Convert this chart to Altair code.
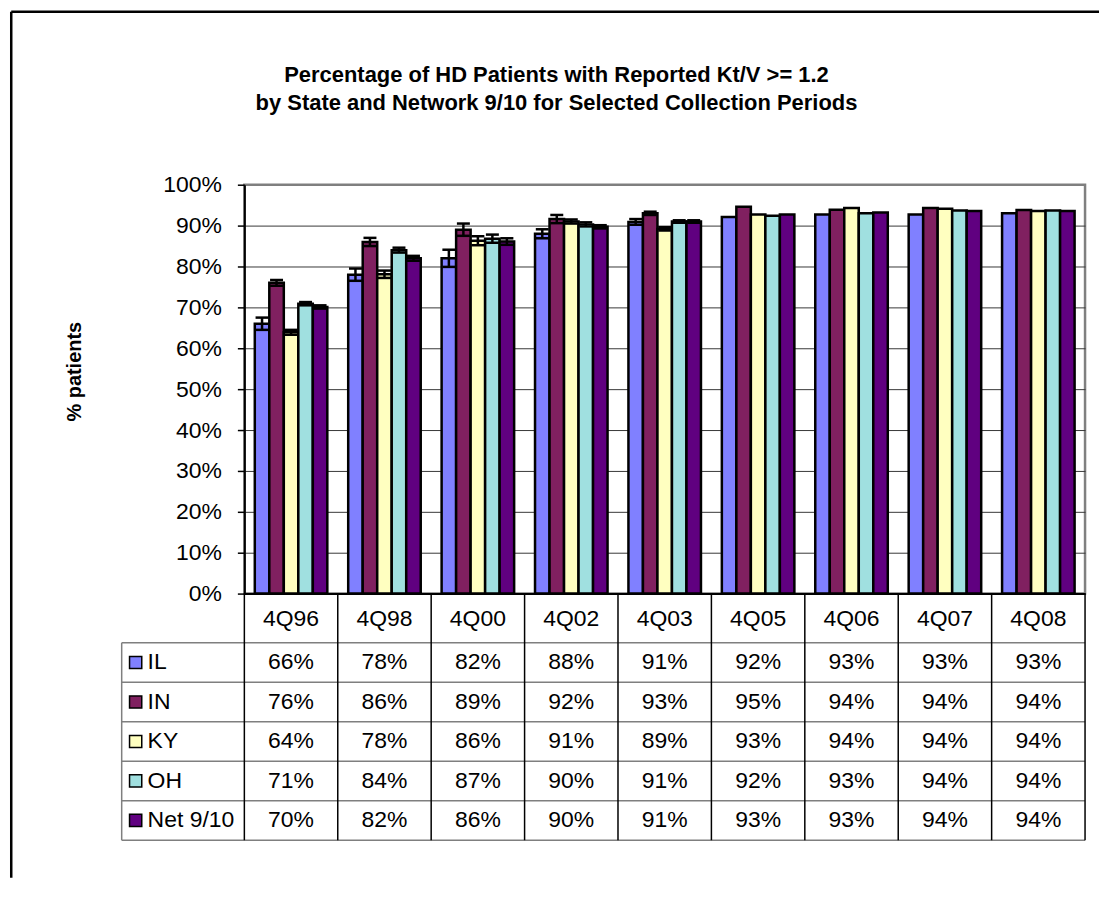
import altair as alt
import pandas as pd

# ---------------- data ----------------
periods = ["4Q96", "4Q98", "4Q00", "4Q02", "4Q03", "4Q05", "4Q06", "4Q07", "4Q08"]
series = ["IL", "IN", "KY", "OH", "Net 9/10"]
colors = ["#8080FF", "#802060", "#FFFFC0", "#A0E0E0", "#600080"]

il = [0.660, 0.780, 0.820, 0.880, 0.909, 0.921, 0.927, 0.927, 0.930]
in_ = [0.760, 0.860, 0.890, 0.916, 0.930, 0.946, 0.939, 0.943, 0.938]
ky = [0.639, 0.781, 0.863, 0.910, 0.892, 0.927, 0.943, 0.941, 0.936]
oh = [0.709, 0.840, 0.868, 0.903, 0.910, 0.924, 0.930, 0.937, 0.937]
net = [0.701, 0.820, 0.861, 0.897, 0.910, 0.927, 0.932, 0.936, 0.936]

il_err = [0.015, 0.015, 0.021, 0.011, 0.007, 0, 0, 0, 0]
in_err = [0.007, 0.010, 0.015, 0.010, 0.004, 0, 0, 0, 0]
ky_err = [0.006, 0.009, 0.011, 0.005, 0.004, 0, 0, 0, 0]
oh_err = [0.004, 0.006, 0.010, 0.005, 0.003, 0, 0, 0, 0]
net_err = [0.004, 0.006, 0.008, 0.004, 0.003, 0, 0, 0, 0]

title_lines = ["Percentage of HD Patients with Reported Kt/V >= 1.2",
               "by State and Network 9/10 for Selected Collection Periods"]

values = [il, in_, ky, oh, net]
errors = [il_err, in_err, ky_err, oh_err, net_err]
rows = []
for s, vals, errs in zip(series, values, errors):
    for p, v, e in zip(periods, vals, errs):
        rows.append({"period": p, "series": s, "value": v,
                     "lo": v - e, "hi": v + e, "err": e})
df = pd.DataFrame(rows)
df_err = df[df["err"] > 0]
one = pd.DataFrame({"k": [0]})
ser_df = pd.DataFrame({"series": series})
per_df = pd.DataFrame({"period": periods})

# ---------------- layout constants ----------------
FONT = "Liberation Sans"
FS = 23
W, H = 843, 410
HEADER = 49.3
TAB_H = 198
LAB = 123

color = alt.Color("series:N", scale=alt.Scale(domain=series, range=colors), legend=None)
xband = alt.Scale(paddingInner=0, paddingOuter=0)
xoff = alt.XOffset("series:N", sort=series, scale=alt.Scale(paddingInner=0, paddingOuter=0.72))

yaxis = alt.Axis(
    values=[i / 10 for i in range(11)], format=".0%",
    labelFontSize=FS, labelFont=FONT, labelColor="black", labelPadding=16,
    tickSize=7, tickColor="black", tickWidth=1.5,
    domainColor="black", domainWidth=2,
    gridColor={"condition": {"test": "datum.value >= 1", "value": "#808080"}, "value": "#383838"},
    gridWidth=1,
    title="% patients", titleFontSize=20, titleFont=FONT, titleFontWeight="bold",
    titleColor="black", titleX=-170.5, titleY=187, titleAngle=270,
    titleAlign="center", titleBaseline="middle",
)
xaxis = alt.Axis(
    title=None, labelFontSize=FS, labelFont=FONT, labelColor="black",
    labelPadding=24.7, labelBaseline="middle", labelAngle=0,
    ticks=False, tickSize=0, domainColor="black", domainWidth=2, grid=False,
)

X = alt.X("period:N", sort=periods, scale=xband, axis=xaxis)
Y = alt.Y("value:Q", scale=alt.Scale(domain=[0, 1]), axis=yaxis)

bars = alt.Chart(df).mark_bar(stroke="black", strokeWidth=2.5, opacity=1).encode(
    x=X, xOffset=xoff, y=Y, color=color)

err_rule = alt.Chart(df_err).mark_rule(color="black", strokeWidth=2.5).encode(
    x=alt.X("period:N", sort=periods, scale=xband, axis=xaxis), xOffset=xoff,
    y=alt.Y("lo:Q", scale=alt.Scale(domain=[0, 1]), axis=yaxis), y2="hi:Q")
cap_lo = alt.Chart(df_err).mark_tick(color="black", thickness=2.5, size=13, opacity=1).encode(
    x=alt.X("period:N", sort=periods, scale=xband, axis=xaxis), xOffset=xoff,
    y=alt.Y("lo:Q", scale=alt.Scale(domain=[0, 1]), axis=yaxis))
cap_hi = alt.Chart(df_err).mark_tick(color="black", thickness=2.5, size=13, opacity=1).encode(
    x=alt.X("period:N", sort=periods, scale=xband, axis=xaxis), xOffset=xoff,
    y=alt.Y("hi:Q", scale=alt.Scale(domain=[0, 1]), axis=yaxis))

# outer frame (top and left edges) and the chart title
frame_left = alt.Chart(one).mark_rule(color="black", strokeWidth=2.5).encode(
    x=alt.value(-233.75), y=alt.value(-173.45), y2=alt.value(695))
frame_top = alt.Chart(one).mark_rule(color="black", strokeWidth=2.5).encode(
    x=alt.value(-233.75), x2=alt.value(857), y=alt.value(-173.45))
title = alt.Chart(one).mark_text(
    text=title_lines, font=FONT, fontSize=22, fontWeight="bold", color="black",
    align="center", baseline="alphabetic", lineHeight=28,
).encode(x=alt.value(313), y=alt.value(-102.5))

top = alt.layer(bars, err_rule, cap_lo, cap_hi, frame_left, frame_top, title).properties(
    width=W, height=H, view=alt.ViewBackground(stroke="#808080", strokeWidth=2.5))

# ---------------- data table ----------------
TX = alt.X("period:N", sort=periods, scale=xband, axis=None)
TY = alt.Y("series:N", sort=series, scale=alt.Scale(paddingInner=0, paddingOuter=0), axis=None)

hlines = alt.Chart(ser_df).mark_rule(color="#7f7f7f", strokeWidth=1.5).encode(
    y=alt.Y("series:N", sort=series, bandPosition=0,
            scale=alt.Scale(paddingInner=0, paddingOuter=0), axis=None),
    x=alt.value(-LAB), x2=alt.value(W))
hbottom = alt.Chart(one).mark_rule(color="#7f7f7f", strokeWidth=1.5).encode(
    y=alt.value(TAB_H), x=alt.value(-LAB), x2=alt.value(W))
vlines = alt.Chart(per_df).mark_rule(color="black", strokeWidth=1.5).encode(
    x=alt.X("period:N", sort=periods, bandPosition=0, scale=xband, axis=None),
    y=alt.value(-HEADER), y2=alt.value(TAB_H))
vright = alt.Chart(one).mark_rule(color="black", strokeWidth=1.5).encode(
    x=alt.value(W), y=alt.value(-HEADER), y2=alt.value(TAB_H))
vleft = alt.Chart(one).mark_rule(color="#7f7f7f", strokeWidth=1.5).encode(
    x=alt.value(-LAB), y=alt.value(0), y2=alt.value(TAB_H))

cells = alt.Chart(df).mark_text(
    font=FONT, fontSize=FS, color="black", align="center", baseline="middle"
).encode(x=TX, y=TY, text=alt.Text("value:Q", format=".0%"))

swatch = alt.Chart(ser_df).mark_square(size=150, stroke="black", strokeWidth=1.5, opacity=1).encode(
    x=alt.value(-109), y=TY, color=color)
labels = alt.Chart(ser_df).mark_text(
    font=FONT, fontSize=FS, color="black", align="left", baseline="middle"
).encode(x=alt.value(-97), y=TY, text="series:N")

table = alt.layer(hlines, hbottom, vlines, vright, vleft, cells, swatch, labels).properties(
    width=W, height=TAB_H, view=alt.ViewBackground(stroke="transparent"))

chart = alt.vconcat(top, table, spacing=HEADER, bounds="flush").properties(
    padding=0, background="white")

chart.save("out.html", embed_options={"renderer": "svg", "actions": False})
